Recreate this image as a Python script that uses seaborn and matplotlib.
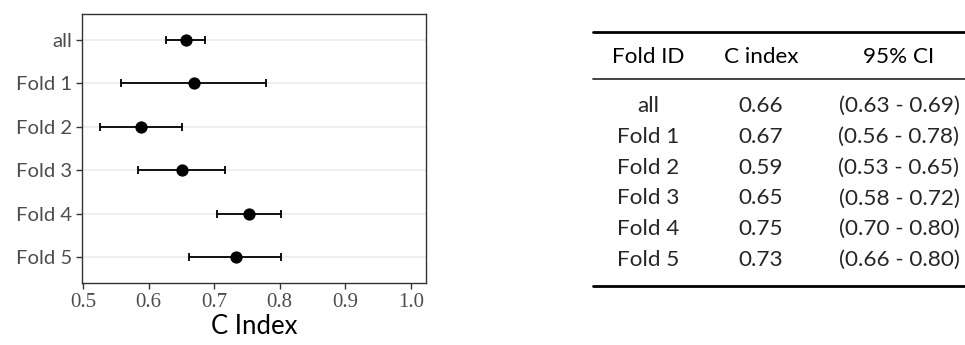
import matplotlib
matplotlib.use("Agg")
import matplotlib.pyplot as plt
import seaborn as sns
import pandas as pd
import numpy as np

# Concordance index per cross-validation fold, with 95% confidence bounds
folds = ["all", "Fold 1", "Fold 2", "Fold 3", "Fold 4", "Fold 5"]
c_index = [0.657, 0.670, 0.588, 0.651, 0.753, 0.733]
ci_low = [0.627, 0.558, 0.526, 0.584, 0.704, 0.662]
ci_high = [0.686, 0.779, 0.651, 0.717, 0.802, 0.802]
x_ticks = [0.5, 0.6, 0.7, 0.8, 0.9, 1.0]
table_header = ["Fold ID", "C index", "95% CI"]

df = pd.DataFrame({"fold": folds, "c": c_index, "lo": ci_low, "hi": ci_high})

sns.set_theme(style="white")
plt.rcParams["font.family"] = ["Lato", "DejaVu Sans"]

W, H = 965, 345
fig = plt.figure(figsize=(W / 100, H / 100), dpi=100)
ax = fig.add_axes([82 / W, 1 - 283 / H, (426 - 82) / W, (283 - 14) / H])

# horizontal guide lines at each fold
for i in range(len(folds)):
    ax.axhline(i, color="#ebebeb", lw=1.2, zorder=0)

ypos = np.arange(len(folds))
ax.errorbar(df["c"], ypos,
            xerr=[df["c"] - df["lo"], df["hi"] - df["c"]],
            fmt="none", ecolor="black", elinewidth=1.3, capsize=3,
            capthick=1.3, zorder=2)
sns.scatterplot(data=df, x="c", y=ypos, color="black", s=78,
                edgecolor="black", linewidth=0, zorder=3, ax=ax)

ax.set_ylim(len(folds) - 0.4, -0.6)
ax.set_xlim(0.4985, 1.023)
ax.set_yticks(ypos)
ax.set_yticklabels(folds)
ax.set_xticks(x_ticks)
ax.set_xticklabels([f"{t:.1f}" for t in x_ticks], family="Liberation Serif")
ax.tick_params(axis="both", which="both", length=4, width=1,
               color="#333333", labelcolor="#4d4d4d", pad=3)
ax.tick_params(axis="y", labelsize=14.6, left=True)
ax.tick_params(axis="x", labelsize=15, bottom=True)
ax.set_xlabel("C Index", fontsize=18.5, color="black", labelpad=2)
ax.set_ylabel("")
for sp in ax.spines.values():
    sp.set_color("#333333")
    sp.set_linewidth(1.0)

# summary table on the right
tax = fig.add_axes([0, 0, 1, 1])
tax.set_xlim(0, W)
tax.set_ylim(H, 0)
tax.axis("off")
col_x = [648, 761, 899]
tax.plot([593, 965], [32, 32], color="black", lw=2.0)
tax.plot([593, 965], [79, 79], color="#333333", lw=1.3)
tax.plot([593, 965], [286, 286], color="black", lw=2.0)
fs = 16.2
for x, h in zip(col_x, table_header):
    tax.text(x, 57, h, ha="center", va="center", fontsize=fs, color="black")
row_y0, row_dy = 106, 30.8
for i, r in df.iterrows():
    y = row_y0 + i * row_dy
    tax.text(col_x[0], y, r["fold"], ha="center", va="center", fontsize=fs)
    tax.text(col_x[1], y, f"{r['c']:.2f}", ha="center", va="center", fontsize=fs)
    tax.text(col_x[2], y, f"({r['lo']:.2f} - {r['hi']:.2f})", ha="center",
             va="center", fontsize=fs)

fig.savefig("out.png", dpi=100)
